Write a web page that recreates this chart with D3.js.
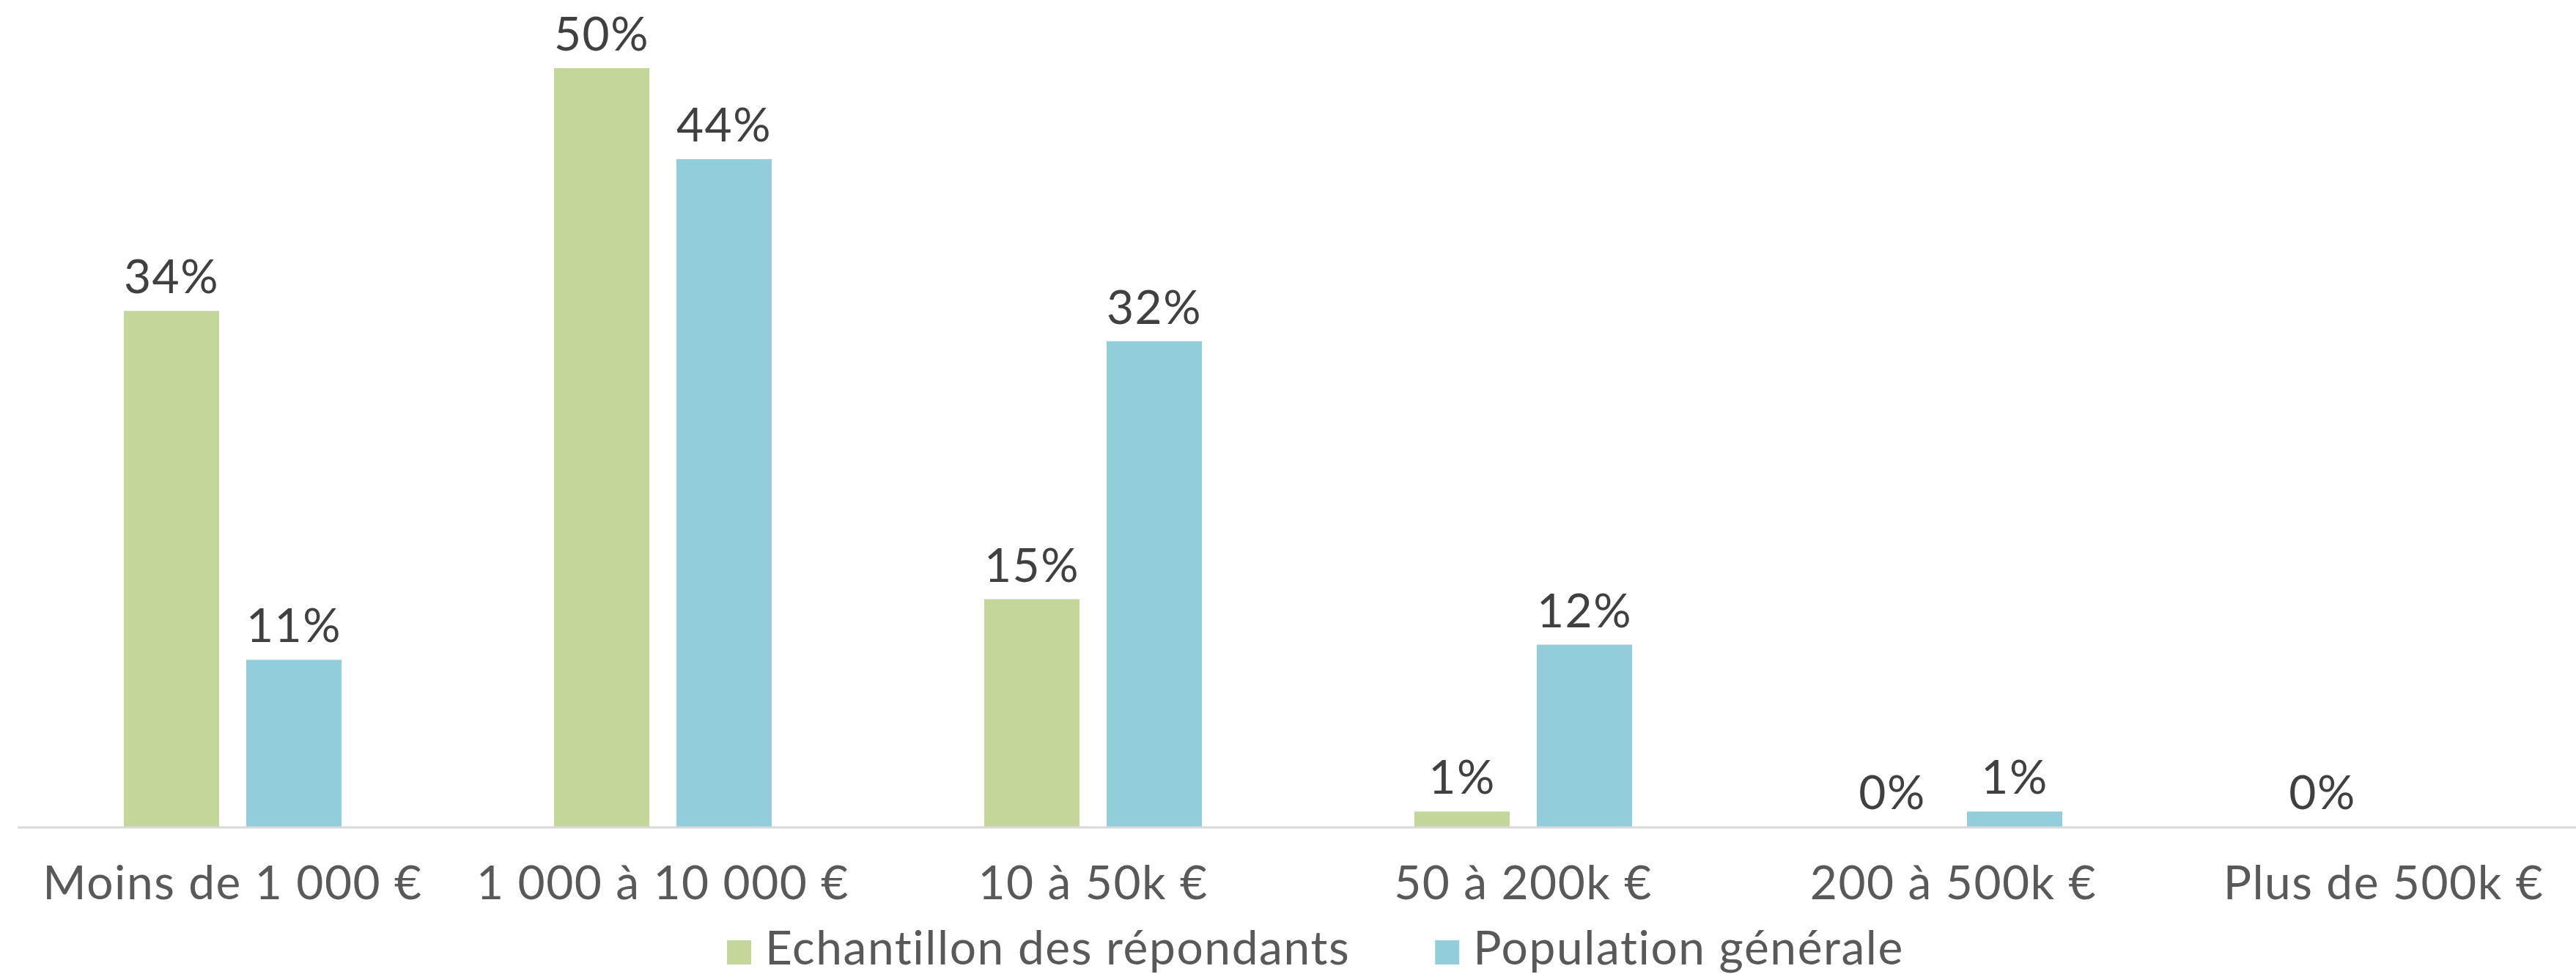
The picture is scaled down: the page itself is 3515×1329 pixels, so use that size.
<!DOCTYPE html>
<meta charset="utf-8">
<script src="https://cdn.jsdelivr.net/npm/d3@7"></script>
<style>
body { margin: 0; background: #fff; }
text { font-family: Lato, "Open Sans", sans-serif; letter-spacing: 1.5px; }
.value { fill: #404040; font-size: 64px; }
.cat { fill: #595959; font-size: 64px; }
.legend text { fill: #595959; font-size: 64px; letter-spacing: 1.6px; }
</style>
<body>
<script>

var categories = ["Moins de 1 000 €", "1 000 à 10 000 €", "10 à 50k €", "50 à 200k €", "200 à 500k €", "Plus de 500k €"];
var seriesNames = ["Echantillon des répondants", "Population générale"];
var echantillon = [0.34, 0.50, 0.15, 0.01, 0.00, 0.00];
var population = [0.11, 0.44, 0.32, 0.12, 0.01, null];
var colors = ["#c4d79b", "#92cddc"];

var width = 3515,
    height = 1329;

var svg = d3.select("body").append("svg")
    .attr("width", width)
    .attr("height", height);

var x0 = d3.scaleBand()
    .domain(categories)
    .range([24, 3546])
    .paddingInner(0.494)
    .paddingOuter(0.247);

var x1 = d3.scaleBand()
    .domain(seriesNames)
    .range([0, x0.bandwidth()])
    .paddingInner(0.2216);

var y = d3.scaleLinear()
    .domain([0, 0.5])
    .range([1128, 93]);

var color = d3.scaleOrdinal().domain(seriesNames).range(colors);

// rows: one per category, with both series
var rows = categories.map(function(c, i) {
  return {cat: c, vals: [
    {name: seriesNames[0], value: echantillon[i]},
    {name: seriesNames[1], value: population[i]}
  ]};
});

var groups = svg.append("g")
  .selectAll("g")
  .data(rows)
  .enter().append("g")
  .attr("transform", function(d) { return "translate(" + x0(d.cat) + ",0)"; });

groups.selectAll("rect")
  .data(function(d) { return d.vals.filter(function(v) { return v.value !== null; }); })
  .enter().append("rect")
  .attr("x", function(d) { return x1(d.name); })
  .attr("y", function(d) { return y(d.value); })
  .attr("width", x1.bandwidth())
  .attr("height", function(d) { return y(0) - y(d.value); })
  .style("fill", function(d) { return color(d.name); });

groups.selectAll("text")
  .data(function(d) { return d.vals.filter(function(v) { return v.value !== null; }); })
  .enter().append("text")
  .attr("class", "value")
  .attr("x", function(d) { return x1(d.name) + x1.bandwidth() / 2; })
  .attr("y", function(d) { return y(d.value) - 24; })
  .attr("text-anchor", "middle")
  .text(function(d) { return d3.format(".0%")(d.value); });

// x axis line
svg.append("line")
  .attr("x1", 24).attr("x2", width)
  .attr("y1", 1129).attr("y2", 1129)
  .style("stroke", "#d9d9d9")
  .style("stroke-width", 3);

svg.append("g")
  .selectAll("text")
  .data(categories)
  .enter().append("text")
  .attr("class", "cat")
  .attr("x", function(d) { return x0(d) + x0.bandwidth() / 2; })
  .attr("y", 1227)
  .attr("text-anchor", "middle")
  .text(function(d) { return d; });

// legend
var legend = svg.append("g").attr("class", "legend");
var items = legend.selectAll("g")
  .data(seriesNames)
  .enter().append("g");

items.append("rect")
  .attr("width", 33).attr("height", 33)
  .attr("y", 1283)
  .style("fill", function(d) { return color(d); });

items.append("text")
  .attr("x", 52)
  .attr("y", 1316)
  .text(function(d) { return d; });

var widths = [];
items.each(function() { widths.push(this.getBBox().width); });
var gap = 116;
var total = d3.sum(widths) + gap * (widths.length - 1);
var xpos = 1795 - total / 2;
items.attr("transform", function(d, i) {
  var t = "translate(" + xpos + ",0)";
  xpos += widths[i] + gap;
  return t;
});

</script>
</body>
